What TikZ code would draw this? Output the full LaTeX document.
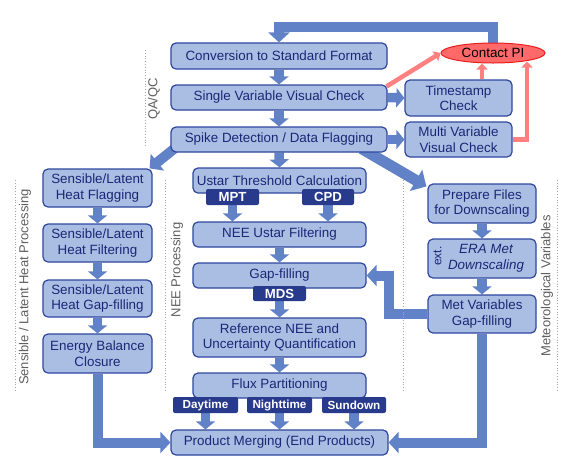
\documentclass[tikz,border=0pt]{standalone}
\usepackage{fontspec}
\setmainfont{Liberation Sans}
\usepackage{tikz}
\usetikzlibrary{arrows.meta,shapes.geometric,backgrounds}
\definecolor{boxfill}{RGB}{170,190,228}
\definecolor{boxline}{RGB}{46,70,158}
\definecolor{boxtext}{RGB}{28,38,118}
\definecolor{tagfill}{RGB}{40,58,140}
\definecolor{flowblue}{RGB}{98,130,200}
\definecolor{pinkflow}{RGB}{255,128,128}
\definecolor{pifill}{RGB}{255,105,105}
\definecolor{piline}{RGB}{230,30,30}
\definecolor{labelgray}{RGB}{95,95,95}

\begin{document}
\begin{tikzpicture}[line join=miter,x=1pt,y=-1pt,
  stepbox/.style={draw=boxline,fill=boxfill,text=boxtext,line width=1.2pt,rounded corners=5pt,
    align=center,inner sep=0pt,font=\fontsize{13.4}{15.5}\selectfont},
  tagbox/.style={fill=tagfill,text=white,rounded corners=2pt,inner sep=0pt,minimum height=16pt,
    font=\bfseries\fontsize{13.2}{15}\selectfont},
  smalltag/.style={tagbox,font=\bfseries\fontsize{11.7}{14}\selectfont},
  sidelabel/.style={rotate=90,text=labelgray,font=\fontsize{13}{15}\selectfont},
  sepline/.style={draw=gray!70,dotted,line width=0.8pt},
  flow/.style={draw=flowblue,line width=9.5pt,-{Triangle[width=19pt,length=8pt]}},
  bigflow/.style={draw=flowblue,line width=10pt,-{Triangle[width=21pt,length=10pt]}},
  pinkarrow/.style={draw=pinkflow,line width=4.5pt,-{Triangle[width=11pt,length=6pt]}}]
\useasboundingbox (0,0) rectangle (564,467);

\draw[sepline] (15,180) -- (15,392);
\draw[sepline] (145,50) -- (145,147);
\draw[sepline] (165,180) -- (165,392);
\draw[sepline] (403.5,180) -- (403.5,392);
\draw[sepline] (557,180) -- (557,392);

\node[sidelabel] (qaqc) at (154,99) {QA/QC};
\node[sidelabel] (senslabel) at (25,287) {Sensible / Latent Heat Processing};
\node[sidelabel] (neelabel) at (177,270) {NEE Processing};
\node[sidelabel] (metlabel) at (547,286) {Meteorological Variables};

\node[stepbox,minimum width=216pt,minimum height=26pt] (conv) at (279,56) {Conversion to Standard Format};
\node[stepbox,minimum width=216pt,minimum height=25pt] (single) at (279,97.5) {Single Variable Visual Check};
\node[stepbox,minimum width=216pt,minimum height=25pt] (spike) at (279,139.5) {Spike Detection / Data Flagging};
\node[stepbox,minimum width=107pt,minimum height=36pt] (stamp) at (458.5,98) {Timestamp\\Check};
\node[stepbox,minimum width=107pt,minimum height=35pt] (multi) at (458.5,139.5) {Multi Variable\\Visual Check};
\node[ellipse,draw=piline,fill=pifill,line width=1pt,inner sep=0pt,minimum width=104pt,minimum height=20pt,
  font=\fontsize{13.4}{15}\selectfont] (pi) at (493,53) {Contact PI};

\node[stepbox,minimum width=109pt,minimum height=38pt] (flag) at (97.5,188) {Sensible/Latent\\Heat Flagging};
\node[stepbox,minimum width=109pt,minimum height=38pt] (filt) at (97.5,243) {Sensible/Latent\\Heat Filtering};
\node[stepbox,minimum width=109pt,minimum height=37pt] (shgap) at (97.5,298.5) {Sensible/Latent\\Heat Gap-filling};
\node[stepbox,minimum width=109pt,minimum height=39pt] (ebc) at (97.5,353.5) {Energy Balance\\Closure};

\node[stepbox,minimum width=173pt,minimum height=25pt] (ustar) at (279.5,180.5) {Ustar Threshold Calculation};
\node[tagbox,minimum width=53pt] (mpt) at (232.5,197) {MPT};
\node[tagbox,minimum width=52pt] (cpd) at (328,197) {CPD};
\node[stepbox,minimum width=173pt,minimum height=25pt] (filter) at (279.5,234.5) {NEE Ustar Filtering};
\node[stepbox,minimum width=173pt,minimum height=25pt] (gapfill) at (279.5,275.5) {Gap-filling};
\node[tagbox,minimum width=53pt,minimum height=15pt] (mds) at (279.5,293.5) {MDS};
\node[stepbox,minimum width=173pt,minimum height=39pt] (refnee) at (279.5,337.5) {Reference NEE and\\Uncertainty Quantification};
\node[stepbox,minimum width=173pt,minimum height=25pt] (flux) at (279.5,385.5) {Flux Partitioning};
\node[smalltag,minimum width=65pt] (day) at (205.5,405) {Daytime};
\node[smalltag,minimum width=65pt] (night) at (279.5,405) {Nighttime};
\node[smalltag,minimum width=64pt] (sun) at (354,405) {Sundown};
\node[stepbox,minimum width=217pt,minimum height=25pt] (merge) at (279.5,442.5) {Product Merging (End Products)};

\node[stepbox,minimum width=108pt,minimum height=39pt] (prep) at (482,203.5) {Prepare Files\\for Downscaling};
\node[stepbox,minimum width=108pt,minimum height=39pt,font=\itshape\fontsize{13.4}{15.5}\selectfont] (era) at (482,258.5) {\hspace*{8pt}ERA Met\\\hspace*{8pt}Downscaling};
\node[rotate=90,text=boxtext,font=\fontsize{12}{14}\selectfont] (ext) at (437.5,256) {ext.};
\node[stepbox,minimum width=108pt,minimum height=38pt] (metgap) at (482,314) {Met Variables\\Gap-filling};

\begin{pgfonlayer}{background}
\draw[bigflow] (pi.north) -- ++(0,-15.5) -| (conv.north);
\draw[flow] (conv.south) -- (single.north);
\draw[flow] (single.south) -- (spike.north);
\draw[flow] (single.east) -- (stamp.west);
\draw[flow] (spike.east) -- (multi.west);
\draw[pinkarrow] ([xshift=-1pt,yshift=-2pt]single.north east) -- (pi.west);
\draw[pinkarrow] (stamp.north -| prep.north) -- (pi.south -| prep.north);
\draw[pinkarrow] (multi.east) -| ([xshift=34pt,yshift=2pt]pi.south);
\draw[bigflow] ([xshift=4pt,yshift=4pt]spike.south west) -- ([xshift=-3pt]flag.north east);
\draw[bigflow,line width=11pt,-{Triangle[width=24pt,length=12pt]}] ([xshift=-26pt,yshift=4pt]spike.south east) -- ([xshift=-1pt,yshift=-3pt]prep.north west);
\draw[flow] (spike.south) -- (ustar.north);
\draw[flow] (mpt.south) -- (mpt.south |- filter.north);
\draw[flow] (cpd.south) -- (cpd.south |- filter.north);
\draw[flow] (filter.south) -- (gapfill.north);
\draw[flow] (mds.south) -- (refnee.north);
\draw[flow] (refnee.south) -- (flux.north);
\draw[flow] (day.south) -- (day.south |- merge.north);
\draw[flow] (night.south) -- (merge.north);
\draw[flow] (sun.south) -- (sun.south |- merge.north);
\draw[flow] (flag.south) -- (filt.north);
\draw[flow] (filt.south) -- (shgap.north);
\draw[flow] (shgap.south) -- (ebc.north);
\draw[bigflow] (ebc.south) |- (merge.west);
\draw[flow] (prep.south) -- (era.north);
\draw[flow] (era.south) -- (metgap.north);
\draw[bigflow] (metgap.south) |- (merge.east);
\draw[bigflow] (metgap.west) -- ++(-38,0) |- (gapfill.east);
\end{pgfonlayer}
\end{tikzpicture}
\end{document}
